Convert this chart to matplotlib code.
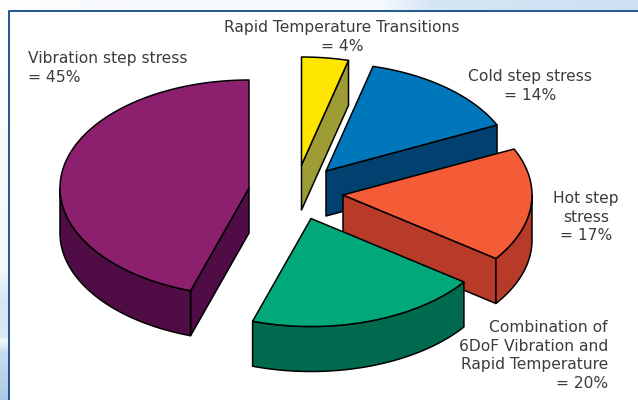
import numpy as np
import matplotlib
matplotlib.use('Agg')
import matplotlib.pyplot as plt
from matplotlib.patches import Polygon

labels = ['Rapid Temperature Transitions\n= 4%', 'Cold step stress\n= 14%', 'Hot step\nstress\n= 17%',
          'Combination of\n6DoF Vibration and\nRapid Temperature\n= 20%', 'Vibration step stress\n= 45%']
shares = [4, 14, 17, 20, 45]
top_colors = ['#ffe600', '#0077bb', '#f45b37', '#00a87a', '#8c1f6e']
side_colors = ['#9e9c35', '#00416f', '#b83a29', '#006a4e', '#500c45']

# pixel layout of the exploded pie
centers = [(301.5, 165), (326, 171), (343, 195), (311, 218.5), (249, 188)]
text_pos = [(342, 20, 'center'), (530, 69, 'center'), (586, 191, 'center'), (608, 320, 'right'), (28, 51, 'left')]
rx, ry, depth = 189, 108, 45

fig = plt.figure(figsize=(6.38, 4), dpi=100)
ax = fig.add_axes([0, 0, 1, 1])
ax.axis('off')

# page background behind the panel
ys = np.arange(400)
left_strip = np.stack([np.interp(ys, [0, 270, 300, 336, 340, 352, 400], c) for c in
                       [[1, .95, .84, .86, .96, .78, .68],
                        [1, .97, .90, .91, .98, .86, .79],
                        [1, .99, .96, .96, .99, .93, .90]]], axis=1).reshape(-1, 1, 3)
ax.imshow(left_strip, extent=[0, 9, 400, 0], aspect='auto', interpolation='bilinear', zorder=0)
xs = np.arange(638)
top_strip = np.stack([np.interp(xs, [0, 100, 380, 430, 638], c) for c in
                      [[1, .97, .96, .84, .80],
                       [1, .98, .98, .90, .88],
                       [1, .99, .99, .96, .95]]], axis=1).reshape(1, -1, 3)
ax.imshow(top_strip, extent=[0, 638, 10, 0], aspect='auto', interpolation='bilinear', zorder=0)
ax.set_xlim(0, 638)
ax.set_ylim(400, 0)
ax.plot([9, 9, 638], [400, 10.5, 10.5], color='#0f4a8a', lw=1.3, zorder=1)

def rim(cx, cy, a0, a1):
    t = np.radians(np.linspace(a0, a1, 120))
    return np.column_stack([cx + rx * np.sin(t), cy - ry * np.cos(t)])

def add_poly(pts, color, z):
    ax.add_patch(Polygon(pts, closed=True, facecolor=color, edgecolor='black', lw=1.1, joinstyle='round', zorder=z))

start = 0
for i in range(len(shares)):
    a0 = start
    a1 = start + shares[i] * 3.6
    start = a1
    cx, cy = centers[i]
    apex = np.array([[cx, cy]])
    z = 2 + i
    down = np.array([0, depth])

    # faces that look toward the viewer
    for a, vis in [(a1, np.sin(np.radians(a1)) > 1e-6), (a0, np.sin(np.radians(a0)) < -1e-6)]:
        if vis:
            p = rim(cx, cy, a, a)[:1]
            add_poly(np.vstack([apex, p, p + down, apex + down]), side_colors[i], z)
    lo = max(a0, 90)
    hi = min(a1, 270)
    if lo < hi:
        arc = rim(cx, cy, lo, hi)
        add_poly(np.vstack([arc, (arc + down)[::-1]]), side_colors[i], z)
    add_poly(np.vstack([apex, rim(cx, cy, a0, a1)]), top_colors[i], z + 0.5)

for i in range(len(labels)):
    x, y, ha = text_pos[i]
    ax.text(x, y, labels[i], ha=ha, va='top', ma=ha, fontsize=11.2, color='#3c3c3c',
            family='DejaVu Sans', linespacing=1.31, zorder=10)

fig.savefig('out.png', dpi=100)
